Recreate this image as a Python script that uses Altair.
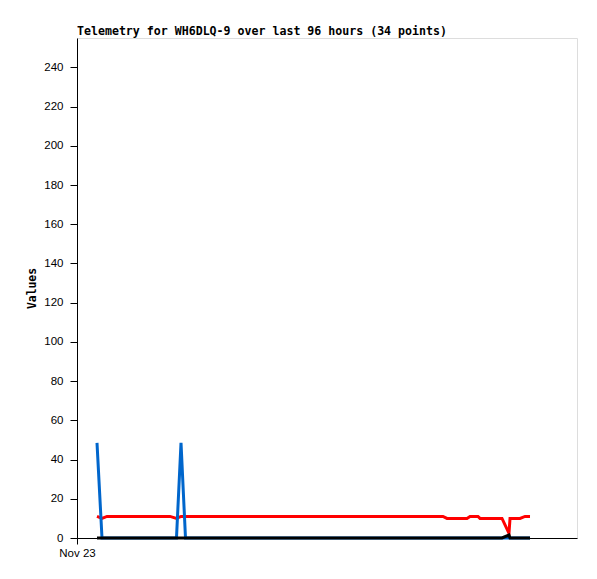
import altair as alt
import pandas as pd

# hours since Nov 23 00:00
hours = [3.84, 4.80, 5.76, 9.22, 12.10, 15.94, 17.86, 19.10, 19.97, 20.83,
         22.66, 24.58, 29.38, 34.18, 38.98, 43.78, 48.58, 53.38, 58.18, 60.10,
         62.98, 66.82, 70.27, 71.04, 74.88, 75.46, 76.99, 77.38, 81.60, 82.94,
         83.14, 85.06, 86.02, 86.98]
blue_vals = [48.5, 0, 0, 0, 0, 0, 0, 0, 48.5, 0,
             0, 0, 0, 0, 0, 0, 0, 0, 0, 0,
             0, 0, 0, 0, 0, 0, 0, 0, 0, 0,
             0, 0, 0, 0]
red_vals = [11, 10, 11, 11, 11, 11, 11, 10, 11, 11,
            11, 11, 11, 11, 11, 11, 11, 11, 11, 11,
            11, 11, 11, 10, 10, 11, 11, 10, 10, 2.4,
            10, 10, 11, 11]
black_vals = [0, 0, 0, 0, 0, 0, 0, 0, 0, 0,
              0, 0, 0, 0, 0, 0, 0, 0, 0, 0,
              0, 0, 0, 0, 0, 0, 0, 0, 0, 1.5,
              0, 0, 0, 0]
y_ticks = [0, 20, 40, 60, 80, 100, 120, 140, 160, 180, 200, 220, 240]

x_scale = alt.Scale(domain=[0, 96], nice=False, zero=False)
y_scale = alt.Scale(domain=[0, 255], nice=False)

x_axis = alt.Axis(values=[0], labelExpr="'Nov 23'", grid=False, tickSize=6,
                  tickColor="black", domainColor="black", labelColor="black",
                  labelFont="Liberation Sans", labelFontSize=11.5, labelPadding=3,
                  title=None, labelFlush=False)
y_axis = alt.Axis(values=y_ticks, grid=False, tickSize=7, tickColor="black",
                  domainColor="black", labelColor="black",
                  labelFont="Liberation Sans", labelFontSize=11.5, labelPadding=7,
                  title="Values", titleFont="DejaVu Sans Mono", titleFontSize=11.4,
                  titleFontWeight="bold", titleColor="black", titlePadding=6)


def series(vals, color):
    df = pd.DataFrame({"t": hours, "v": vals})
    return alt.Chart(df).mark_line(color=color, strokeWidth=3, interpolate="linear").encode(
        x=alt.X("t:Q", scale=x_scale, axis=x_axis),
        y=alt.Y("v:Q", scale=y_scale, axis=y_axis),
    )


chart = alt.layer(
    series(red_vals, "#ff0000"),
    series(blue_vals, "#0066cc"),
    series(black_vals, "#000000"),
).properties(
    width=500,
    height=500,
    title=alt.TitleParams("Telemetry for WH6DLQ-9 over last 96 hours (34 points)",
                          anchor="start", frame="group", font="DejaVu Sans Mono",
                          fontSize=11.6, fontWeight="bold", color="black", offset=0),
    autosize=alt.AutoSizeParams(type="none"),
    padding={"left": 69, "top": 30, "right": 12, "bottom": 33},
).configure_view(stroke="black", strokeWidth=1).configure(background="white")

chart.save("out.html", embed_options={"renderer": "svg", "actions": False})
